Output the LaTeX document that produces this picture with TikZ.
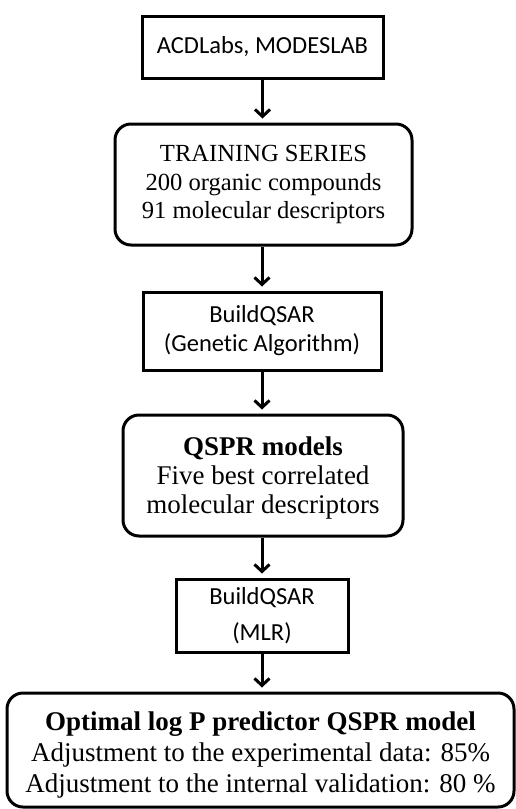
\documentclass[tikz,border=0pt]{standalone}
\usepackage{fontspec}
\setmainfont{Liberation Serif}
\newfontfamily\calibri[Ligatures=NoCommon]{Carlito}
\usetikzlibrary{arrows.meta}
\tikzset{
  sqbox/.style={draw, line width=3pt, inner sep=0pt, align=center},
  rbox/.style={draw, line width=3pt, rounded corners=16pt, inner sep=0pt, align=center},
  flow/.style={line width=3pt, -{Straight Barb[length=7pt,width=15pt,line width=3pt]}, shorten >=4pt},
  sansfont/.style={font=\calibri\fontsize{24.5}{29}\selectfont},
}
\begin{document}
\begin{tikzpicture}[x=1pt,y=-1pt]
\useasboundingbox (0,0) rectangle (516,809);
\node[sqbox, sansfont, minimum width=241pt, minimum height=62pt] (acd) at (262.5,47) {ACDLabs, MODESLAB};
\node[rbox, font=\fontsize{24.6}{28.5}\selectfont, minimum width=297pt, minimum height=121pt] (train) at (263.5,184.5)
  {TRAINING SERIES\\200 organic compounds\\91 molecular descriptors};
\node[sqbox, sansfont, minimum width=238pt, minimum height=78pt] (ga) at (262,331) {BuildQSAR\\(Genetic Algorithm)};
\node[rbox, font=\fontsize{27}{29}\selectfont, minimum width=280pt, minimum height=121pt] (qspr) at (263,475.5)
  {\rule{0pt}{24.5pt}\textbf{QSPR models}\\Five best correlated\\molecular descriptors};
\node[sqbox, font=\calibri\fontsize{24.5}{36}\selectfont, minimum width=172pt, minimum height=73pt] (mlr) at (262,615.5) {BuildQSAR\\(MLR)};
\node[rbox, font=\fontsize{27}{31}\selectfont, minimum width=507pt, minimum height=114pt] (opt) at (260.5,750)
  {\rule{0pt}{29pt}\textbf{Optimal log P predictor QSPR model}\\Adjustment to the experimental data: 85\%\\Adjustment to the internal validation: 80 \%};
\draw[flow] (acd.south) -- (acd.south |- train.north);
\draw[flow] (train.south -| ga.north) -- (ga.north);
\draw[flow] (ga.south) -- (ga.south |- qspr.north);
\draw[flow] (qspr.south -| mlr.north) -- (mlr.north);
\draw[flow] (mlr.south) -- (mlr.south |- opt.north);
\end{tikzpicture}
\end{document}
